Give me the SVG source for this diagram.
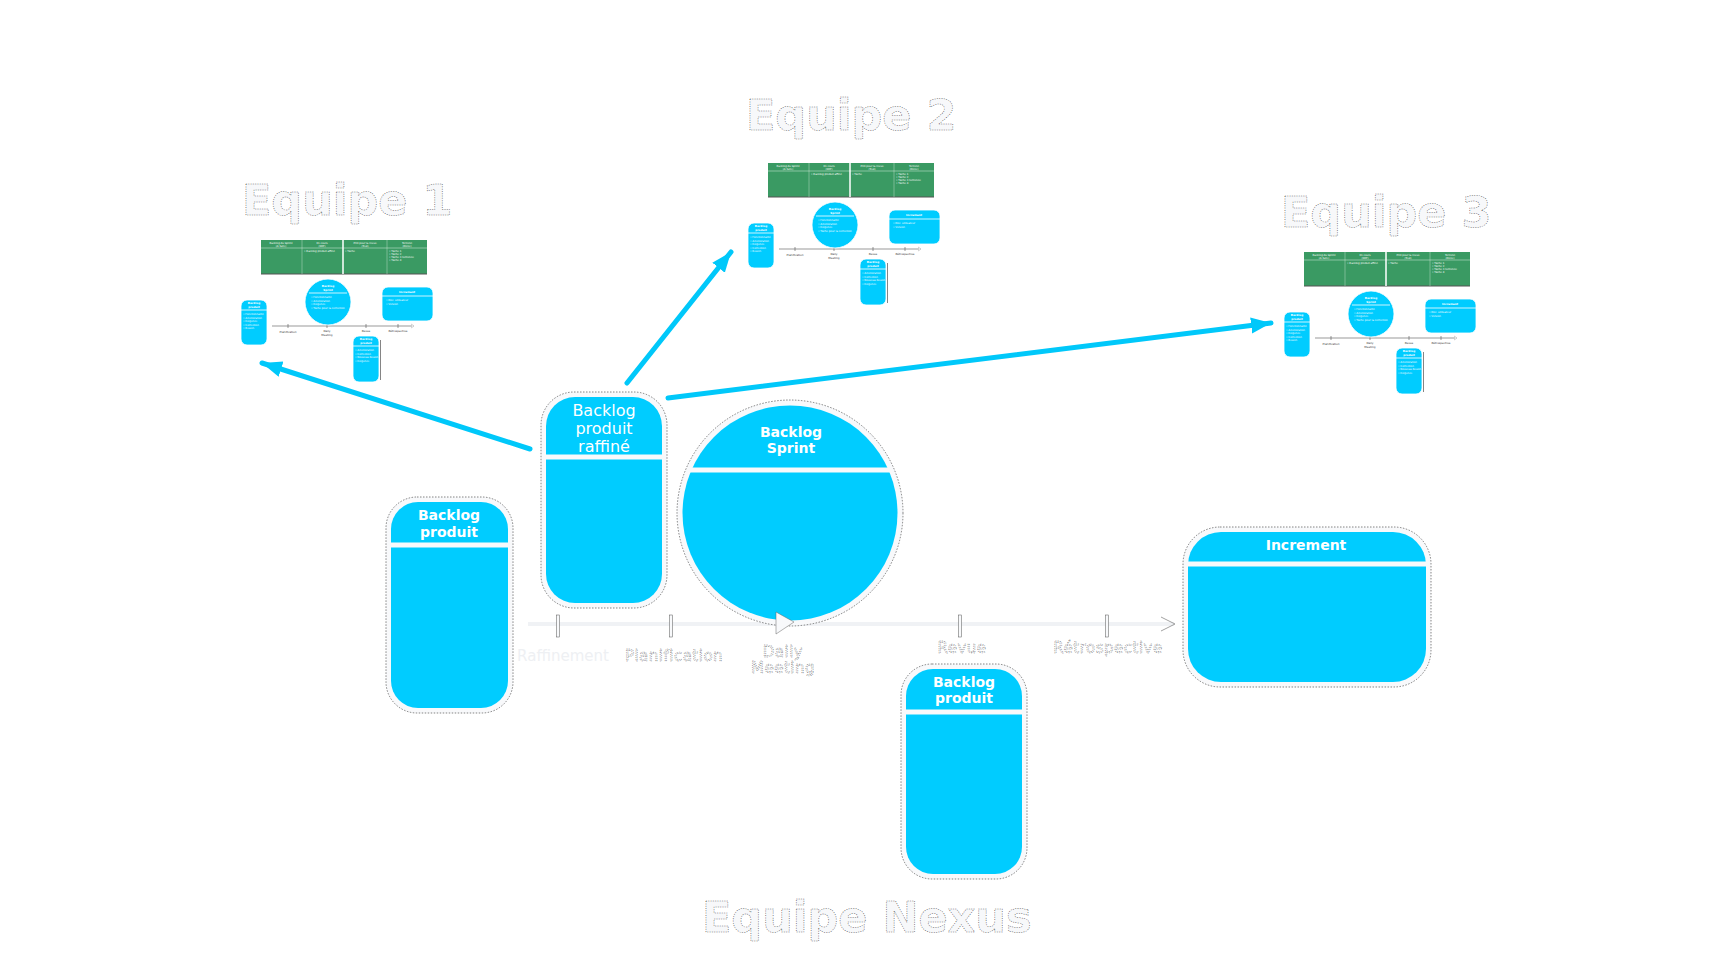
<svg xmlns="http://www.w3.org/2000/svg" xmlns:xlink="http://www.w3.org/1999/xlink" width="1736" height="954" viewBox="0 0 1736 954">
<style>
.ttl{font-family:"DejaVu Sans",sans-serif;font-weight:bold;font-size:43px;fill:#f7f8fa;stroke:#222;stroke-width:0.5;stroke-dasharray:1 1.3}
.lbl{font-family:"DejaVu Sans",sans-serif;font-size:15px;fill:#f7f8fa;stroke:#333;stroke-width:0.4;stroke-dasharray:1 1.2;text-anchor:middle;letter-spacing:0.5px}
.faint{font-family:"DejaVu Sans",sans-serif;font-size:15px;fill:#eef0f3;text-anchor:middle}
.hb{font-family:"DejaVu Sans",sans-serif;font-weight:bold;font-size:14px;fill:#fff;text-anchor:middle}
.hr{font-family:"DejaVu Sans",sans-serif;font-size:16px;fill:#fff;text-anchor:middle}
.outer{fill:#f8f9fb;stroke:#333;stroke-width:0.6;stroke-dasharray:1.5 1.5}
.inner{fill:#00ccff}
.div{stroke:#f8f9fb;stroke-width:5}
.tick{fill:#f8f9fb;stroke:#555;stroke-width:0.5}
.conn{stroke:#00c8fa;stroke-width:5;fill:none;stroke-linecap:round}
.mcy{fill:#00ccff;stroke:#fff;stroke-width:0.8}
.mdiv{stroke:#fff;stroke-width:0.8}
.mt{font-family:"DejaVu Sans",sans-serif;font-size:2.6px;fill:#fff}
.mtb{font-family:"DejaVu Sans",sans-serif;font-size:2.8px;font-weight:bold;fill:#fff;text-anchor:middle}
.ml{font-family:"DejaVu Sans",sans-serif;font-size:2.8px;fill:#333;text-anchor:middle}
</style>
<defs>
<marker id="ah" markerUnits="userSpaceOnUse" markerWidth="24" markerHeight="18" refX="20" refY="8" orient="auto">
<path d="M0,0 L20,8 L0,16 Z" fill="#00c8fa"/>
</marker>
<g id="mini">
<rect x="0" y="0" width="166" height="34" fill="#3a9a63"/>
<line x1="0" y1="34" x2="166" y2="34" stroke="#555" stroke-width="1"/>
<line x1="0" y1="8" x2="166" y2="8" stroke="#d8eee0" stroke-width="0.5"/>
<line x1="41" y1="0" x2="41" y2="34" stroke="#d8eee0" stroke-width="0.4"/>
<line x1="82" y1="0" x2="82" y2="34" stroke="#fff" stroke-width="1.5"/>
<line x1="126" y1="0" x2="126" y2="34" stroke="#d8eee0" stroke-width="0.4"/>
<text class="mt" x="20" y="3.5" text-anchor="middle">Backlog du Sprint</text>
<text class="mt" x="20" y="6.8" text-anchor="middle">(A faire)</text>
<text class="mt" x="61" y="3.5" text-anchor="middle">En cours</text>
<text class="mt" x="61" y="6.8" text-anchor="middle">(WIP)</text>
<text class="mt" x="104" y="3.5" text-anchor="middle">Prêt pour la revue</text>
<text class="mt" x="104" y="6.8" text-anchor="middle">(Test)</text>
<text class="mt" x="146" y="3.5" text-anchor="middle">Terminé</text>
<text class="mt" x="146" y="6.8" text-anchor="middle">(Done)</text>
<text class="mt" x="43" y="12">• Backlog produit affiné</text>
<text class="mt" x="84" y="12">• Tâche</text>
<text class="mt" x="128" y="12">• Tâche 1</text>
<text class="mt" x="128" y="15">• Tâche 2</text>
<text class="mt" x="128" y="18">• Tâche 3 terminée</text>
<text class="mt" x="128" y="21">• Tâche 4</text>
<line x1="11" y1="86" x2="151" y2="86" stroke="#999" stroke-width="1.2"/>
<path d="M150,84 L153,86 L150,88" fill="none" stroke="#999" stroke-width="0.5"/>
<line x1="27" y1="84" x2="27" y2="88" stroke="#555" stroke-width="0.6"/>
<line x1="66" y1="84" x2="66" y2="88" stroke="#555" stroke-width="0.6"/>
<line x1="105" y1="84" x2="105" y2="88" stroke="#555" stroke-width="0.6"/>
<line x1="137" y1="84" x2="137" y2="88" stroke="#555" stroke-width="0.6"/>
<text class="ml" x="27" y="93">Planification</text>
<text class="ml" x="66" y="92">Daily</text>
<text class="ml" x="66" y="95.5">Meeting</text>
<text class="ml" x="105" y="91.5">Revue</text>
<text class="ml" x="137" y="92">Rétrospective</text>
<rect class="mcy" x="-20" y="60" width="26" height="45" rx="6"/>
<line class="mdiv" x1="-20" y1="70" x2="6" y2="70"/>
<text class="mtb" x="-7" y="64">Backlog</text>
<text class="mtb" x="-7" y="67.5">produit</text>
<text class="mt" x="-18" y="75">• Fonctionnalité</text>
<text class="mt" x="-18" y="78.5">• Amélioration</text>
<text class="mt" x="-18" y="82">• Exigence</text>
<text class="mt" x="-18" y="85.5">• Correction</text>
<text class="mt" x="-18" y="89">• Besoin</text>
<circle class="mcy" cx="67" cy="62" r="23"/>
<line class="mdiv" x1="48" y1="53" x2="86" y2="53"/>
<text class="mtb" x="67" y="47">Backlog</text>
<text class="mtb" x="67" y="50.5">Sprint</text>
<text class="mt" x="50" y="58">• Fonctionnalité</text>
<text class="mt" x="50" y="61.5">• Amélioration</text>
<text class="mt" x="50" y="65">• Exigence</text>
<text class="mt" x="50" y="68.5">• Tâche pour la correction</text>
<rect class="mcy" x="121" y="47" width="51" height="34" rx="6"/>
<line class="mdiv" x1="121" y1="56" x2="172" y2="56"/>
<text class="mtb" x="146" y="52.5">Increment</text>
<text class="mt" x="125" y="61">• Doc. utilisateur</text>
<text class="mt" x="125" y="64.5">• Version</text>
<rect class="mcy" x="92" y="96" width="26" height="46" rx="6"/>
<line class="mdiv" x1="92" y1="106" x2="118" y2="106"/>
<text class="mtb" x="105" y="100">Backlog</text>
<text class="mtb" x="105" y="103.5">produit</text>
<text class="mt" x="94" y="111">• Amélioration</text>
<text class="mt" x="94" y="114.5">• Correction</text>
<text class="mt" x="94" y="118">• Nouveau besoin</text>
<text class="mt" x="94" y="121.5">• Exigence</text>
<line x1="119.5" y1="100" x2="119.5" y2="140" stroke="#333" stroke-width="0.6"/>
</g>
</defs>
<rect x="0" y="0" width="1736" height="954" fill="#ffffff"/>

<g id="titles">
<text class="ttl" x="242" y="215">Equipe 1</text>
<text class="ttl" x="746" y="130">Equipe 2</text>
<text class="ttl" x="1281" y="227">Equipe 3</text>
<text class="ttl" x="702" y="932">Equipe Nexus</text>
</g>

<g id="equipe1"><use xlink:href="#mini" href="#mini" x="261" y="240"/></g>
<g id="equipe2"><use xlink:href="#mini" href="#mini" x="768" y="163"/></g>
<g id="equipe3"><use xlink:href="#mini" href="#mini" x="1304" y="252"/></g>

<g id="timeline">
<line x1="528" y1="624" x2="1174" y2="624" stroke="#f0f2f5" stroke-width="4"/>
<path d="M1161,617 L1175,624 L1161,631" fill="none" stroke="#888" stroke-width="0.8"/>
<rect class="tick" x="556.5" y="615" width="3" height="22"/>
<rect class="tick" x="669.5" y="615" width="3" height="22"/>
<rect class="tick" x="958.5" y="615" width="3" height="22"/>
<rect class="tick" x="1105.5" y="615" width="3" height="22"/>
<text class="faint" x="563" y="661">Raffinement</text>
<text class="lbl" x="674" y="661">Planification</text>
<text class="lbl" x="783" y="657">Daily</text>
<text class="lbl" x="783" y="673">Meeting</text>
<text class="lbl" x="962" y="653">Revue</text>
<text class="lbl" x="1108" y="653">Rétrospective</text>
</g>

<g id="backlog-produit">
<rect class="outer" x="386" y="497" width="127" height="216" rx="31"/>
<rect class="inner" x="391" y="502" width="117" height="206" rx="27"/>
<line class="div" x1="391" y1="545" x2="508" y2="545"/>
<text class="hb" x="449" y="520">Backlog</text>
<text class="hb" x="449" y="537">produit</text>
</g>

<g id="backlog-raffine">
<rect class="outer" x="541" y="392" width="126" height="216" rx="33"/>
<rect class="inner" x="546" y="397" width="116" height="206" rx="29"/>
<line class="div" x1="546" y1="457" x2="662" y2="457"/>
<text class="hr" x="604" y="416">Backlog</text>
<text class="hr" x="604" y="434">produit</text>
<text class="hr" x="604" y="452">raffiné</text>
</g>

<g id="backlog-sprint">
<circle class="outer" cx="790" cy="513" r="113"/>
<circle class="inner" cx="790" cy="513" r="107.5"/>
<line class="div" x1="690" y1="470" x2="890" y2="470"/>
<text class="hb" x="791" y="437">Backlog</text>
<text class="hb" x="791" y="453">Sprint</text>
<path d="M776,612 L794,622 L776,634 Z" fill="#f8f9fb" stroke="#666" stroke-width="0.5"/>
</g>

<g id="backlog-produit-2">
<rect class="outer" x="901" y="664" width="126" height="215" rx="31"/>
<rect class="inner" x="906" y="669" width="116" height="205" rx="27"/>
<line class="div" x1="906" y1="712" x2="1022" y2="712"/>
<text class="hb" x="964" y="687">Backlog</text>
<text class="hb" x="964" y="703">produit</text>
</g>

<g id="increment">
<rect class="outer" x="1183" y="527" width="248" height="160" rx="37"/>
<rect class="inner" x="1188" y="532" width="238" height="150" rx="33"/>
<line class="div" x1="1188" y1="564" x2="1426" y2="564"/>
<text class="hb" x="1306" y="550">Increment</text>
</g>

<g id="connectors">
<line class="conn" x1="530" y1="449" x2="262" y2="363" marker-end="url(#ah)"/>
<line class="conn" x1="627" y1="383" x2="731" y2="252" marker-end="url(#ah)"/>
<line class="conn" x1="668" y1="398" x2="1271" y2="323" marker-end="url(#ah)"/>
</g>
</svg>
